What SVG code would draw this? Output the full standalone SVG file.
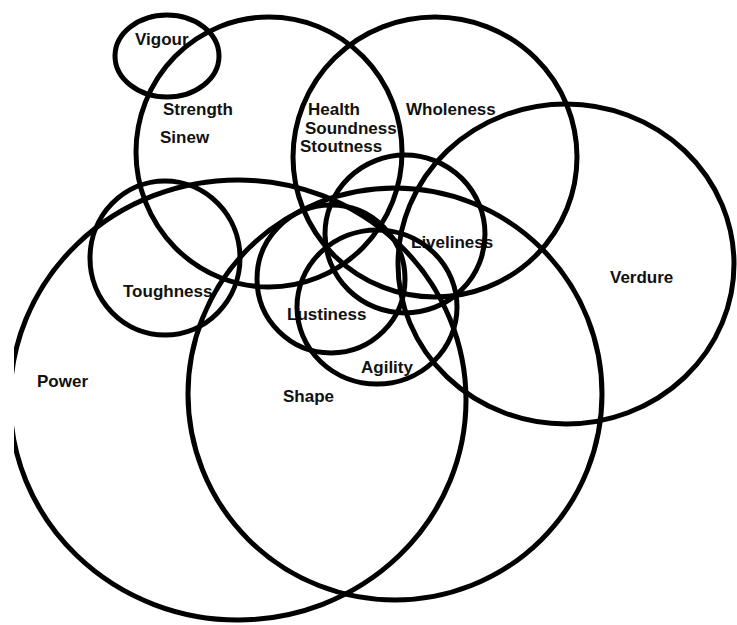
<svg xmlns="http://www.w3.org/2000/svg" width="737" height="625" viewBox="0 0 737 625">
  <style>
    .c { fill: none; stroke: #000; stroke-width: 5; }
    .t { font-family: "Liberation Sans", Arial, sans-serif; font-weight: bold; font-size: 17px; fill: #111; }
  </style>
  <defs>
    <clipPath id="clipL"><rect x="14" y="0" width="723" height="625"/></clipPath>
  </defs>
  <rect width="737" height="625" fill="#fff"/>
  <g id="labels">
    <text class="t" x="135" y="45">Vigour</text>
    <text class="t" x="163" y="115">Strength</text>
    <text class="t" x="160" y="143">Sinew</text>
    <text class="t" x="308" y="115">Health</text>
    <text class="t" x="305" y="134">Soundness</text>
    <text class="t" x="300" y="152">Stoutness</text>
    <text class="t" x="406" y="115">Wholeness</text>
    <text class="t" x="610" y="283">Verdure</text>
    <text class="t" x="411" y="248">Liveliness</text>
    <text class="t" x="123" y="297">Toughness</text>
    <text class="t" x="37" y="387">Power</text>
    <text class="t" x="283" y="402">Shape</text>
    <text class="t" x="287" y="320">Lustiness</text>
    <text class="t" x="361" y="373">Agility</text>
  </g>
  <g id="circles">
    <ellipse id="vigour" class="c" cx="167" cy="56" rx="52" ry="41"/>
    <ellipse id="strength" class="c" cx="269" cy="152" rx="133" ry="135"/>
    <ellipse id="wholeness" class="c" cx="435" cy="157" rx="142" ry="140"/>
    <ellipse id="verdure" class="c" cx="566" cy="264" rx="168" ry="160"/>
    <ellipse id="liveliness" class="c" cx="405" cy="234" rx="80" ry="79"/>
    <ellipse id="toughness" class="c" cx="165" cy="258" rx="75" ry="77"/>
    <ellipse id="power" class="c" cx="238" cy="400" rx="228" ry="220" clip-path="url(#clipL)"/>
    <ellipse id="shape" class="c" cx="395" cy="394" rx="207" ry="206"/>
    <ellipse id="lustiness" class="c" cx="331" cy="279" rx="74" ry="74"/>
    <ellipse id="agility" class="c" cx="377" cy="307" rx="80" ry="77"/>
  </g>
</svg>
